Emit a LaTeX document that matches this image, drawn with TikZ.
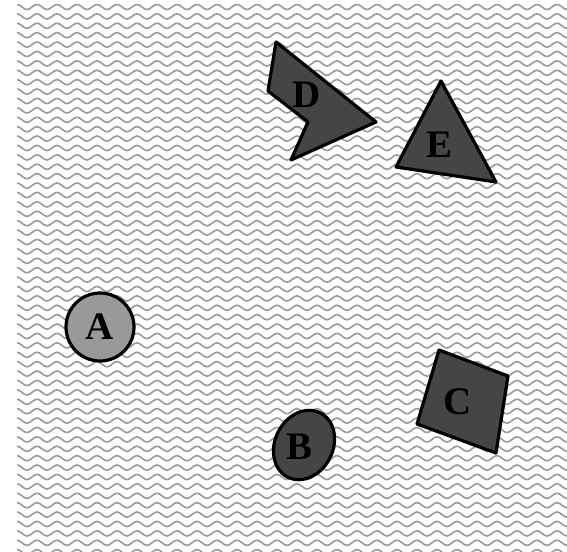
\documentclass[tikz,border=0pt]{standalone}
\usepackage{fontspec}
\setmainfont{Liberation Serif}

\begin{document}
\begin{tikzpicture}[
    x=1pt, y=-1pt,
    every node/.style={font=\fontsize{39}{40}\selectfont\bfseries},
    wave/.style={draw=black!40, line width=1.6pt},
    piece/.style={draw=black, line width=3.2pt, line join=round, fill=#1},
    piece/.default=black!73
]
\useasboundingbox (0,0) rectangle (567,551);

% Background: wavy texture
\begin{scope}
  \clip (17,5) rectangle (567,551);
  \foreach \r in {0,...,58}
    \draw[wave] (12, 7+9.4*\r)
      \foreach \p in {0,...,28} {sin ++(5,-2.6) cos ++(5,2.6) sin ++(5,2.6) cos ++(5,-2.6)};
\end{scope}

% Shape D
\draw[piece] (276,42) -- (268,91) -- (308,122) -- (291,160) -- (376,122) -- cycle;
\node (d) at (307,95) {D};

% Shape E
\draw[piece] (441,81) -- (396,167) -- (496,182) -- cycle;
\node (e) at (439,145) {E};

% Shape A
\draw[piece=black!40] (100,327) circle (34);
\node (a) at (100,327) {A};

% Shape B
\draw[piece, rotate around={63:(304,445)}] (304,445) ellipse (36 and 29);
\node (b) at (300,447) {B};

% Shape C
\draw[piece] (439,350) -- (508,376) -- (496,453) -- (417,424) -- cycle;
\node (c) at (458,402) {C};

\end{tikzpicture}
\end{document}
